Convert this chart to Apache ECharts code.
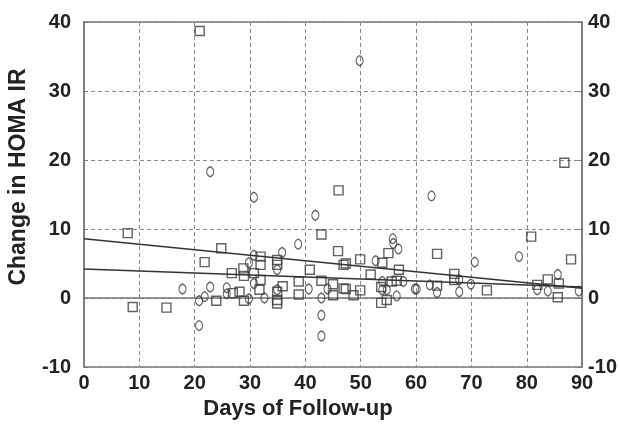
<!DOCTYPE html>
<html>
<head>
<meta charset="utf-8">
<script src="https://cdn.jsdelivr.net/npm/echarts@6/dist/echarts.min.js"></script>
<style>
  html, body { margin: 0; padding: 0; background: #fff; }
  #echart { width: 620px; height: 425px; }
</style>
</head>
<body>
<div id="echart"></div>
<script>
// Days of follow-up vs change in HOMA IR, two groups
var squarePoints = [
  [7.9, 9.4], [8.8, -1.3], [14.9, -1.4], [20.9, 38.7], [21.8, 5.2], [23.9, -0.4], [24.8, 7.2],
  [26.7, 3.6], [26.9, 0.7], [28.1, 0.9], [28.8, 4.3], [28.9, 3.2], [28.9, -0.4], [30.7, 3.6],
  [31.7, 1.2], [31.9, 6.0], [31.9, 4.8], [31.9, 2.6], [34.9, 5.5], [34.9, 4.8], [34.9, 0.9],
  [34.9, -0.3], [34.9, -0.8], [35.9, 1.7], [38.8, 2.4], [38.8, 0.5], [40.8, 4.1], [42.9, 9.2],
  [42.9, 2.5], [45.0, 2.0], [45.0, 0.4], [45.9, 6.8], [46.0, 15.6], [46.9, 4.8], [46.9, 1.4],
  [47.3, 5.0], [47.3, 1.3], [48.7, 0.4], [49.9, 5.6], [49.9, 1.1], [51.8, 3.4], [53.9, 5.1],
  [53.7, 1.6], [53.7, -0.7], [54.7, -0.3], [55.0, 6.5], [55.6, 2.4], [56.5, 2.5], [56.9, 4.1],
  [63.8, 6.4], [63.8, 1.8], [66.9, 3.5], [66.9, 2.6], [72.8, 1.1], [80.8, 8.9], [81.9, 1.9],
  [83.8, 2.7], [85.8, 2.1], [85.6, 0.1], [86.8, 19.6], [88.0, 5.6]
];
var diamondPoints = [
  [17.8, 1.3], [20.8, -0.4], [20.8, -4.0], [21.8, 0.2], [22.8, 1.6], [22.8, 18.3], [25.8, 1.5],
  [25.8, 0.6], [29.8, 5.1], [29.8, -0.1], [30.7, 6.2], [30.7, 14.6], [30.7, 2.1], [32.6, 0.0],
  [34.9, 4.1], [34.9, 1.2], [35.8, 6.6], [38.7, 7.8], [40.6, 1.3], [41.8, 12.0], [42.9, 0.0],
  [42.9, -2.5], [42.9, -5.5], [44.0, 1.3], [49.8, 34.4], [52.7, 5.4], [53.9, 2.4], [53.9, 1.2],
  [54.7, 1.2], [55.8, 8.6], [55.9, 7.9], [56.8, 7.1], [56.5, 0.3], [57.7, 2.4], [59.8, 1.3],
  [62.5, 1.9], [62.8, 14.8], [63.8, 0.8], [60.1, 1.3], [67.8, 2.6], [67.8, 0.9], [69.9, 2.0],
  [70.6, 5.2], [78.6, 6.0], [81.9, 1.2], [83.8, 1.0], [85.6, 3.4], [89.4, 1.0]
];
var fitUpper = [[0, 8.6], [90, 1.4]];
var fitLower = [[0, 4.2], [90, 1.6]];

var xTitle = 'Days of Follow-up';
var yTitle = 'Change in HOMA IR';

var labelFont = {
  color: '#222',
  fontFamily: '"Liberation Sans", Arial, sans-serif',
  fontWeight: 'bold',
  fontSize: 20
};
var gridLine = { show: true, lineStyle: { color: '#8a8a8a', type: [4, 3], width: 1 } };
// rounded diamond, looks like the small "0"-ish markers of the original
var ovalDiamond = 'path://M0,-5C2.5,-4 3.5,-1.5 3.5,0C3.5,1.5 2.5,4 0,5C-2.5,4 -3.5,1.5 -3.5,0C-3.5,-1.5 -2.5,-4 0,-5Z';

function yAxisOpt(pos) {
  return {
    type: 'value',
    position: pos,
    min: -10,
    max: 40,
    interval: 10,
    axisLine: { show: true, lineStyle: { color: '#777', width: 1.5 } },
    axisTick: { show: true, inside: true, length: 4, lineStyle: { color: '#777' } },
    splitLine: pos === 'left' ? gridLine : { show: false },
    axisLabel: Object.assign({ margin: pos === 'left' ? 13 : 6 }, labelFont)
  };
}

var myChart = echarts.init(document.getElementById('echart'));
myChart.setOption({
  animation: false,
  backgroundColor: '#fff',
  grid: { left: 84, right: 30, top: 22, bottom: 58, show: true, borderColor: '#777', borderWidth: 1.5 },
  xAxis: {
    type: 'value',
    min: 0,
    max: 90,
    interval: 10,
    axisLine: { show: true, lineStyle: { color: '#777', width: 1.5 } },
    axisTick: { show: true, inside: true, length: 4, lineStyle: { color: '#777' } },
    splitLine: gridLine,
    axisLabel: Object.assign({ margin: 6 }, labelFont)
  },
  yAxis: [yAxisOpt('left'), yAxisOpt('right')],
  graphic: [
    {
      type: 'text',
      x: 19,
      y: 177,
      rotation: Math.PI / 2,
      style: {
        text: yTitle, fill: '#222', align: 'center', verticalAlign: 'middle',
        font: 'bold 23px "Liberation Sans", Arial, sans-serif'
      }
    },
    {
      type: 'text',
      x: 298,
      y: 409,
      style: {
        text: xTitle, fill: '#222', align: 'center', verticalAlign: 'middle',
        font: 'bold 22px "Liberation Sans", Arial, sans-serif'
      }
    }
  ],
  series: [
    {
      name: 'squares',
      type: 'scatter',
      symbol: 'rect',
      symbolSize: 9,
      itemStyle: { color: 'rgba(255,255,255,0)', borderColor: '#3a3a3a', borderWidth: 1.4 },
      data: squarePoints
    },
    {
      name: 'diamonds',
      type: 'scatter',
      symbol: ovalDiamond,
      symbolSize: [7, 10],
      itemStyle: { color: 'rgba(255,255,255,0)', borderColor: '#3a3a3a', borderWidth: 1.2 },
      data: diamondPoints
    },
    {
      name: 'fit1',
      type: 'line',
      symbol: 'none',
      lineStyle: { color: '#333', width: 1.5 },
      data: fitUpper
    },
    {
      name: 'fit2',
      type: 'line',
      symbol: 'none',
      lineStyle: { color: '#333', width: 1.5 },
      data: fitLower
    }
  ]
});
</script>
</body>
</html>
